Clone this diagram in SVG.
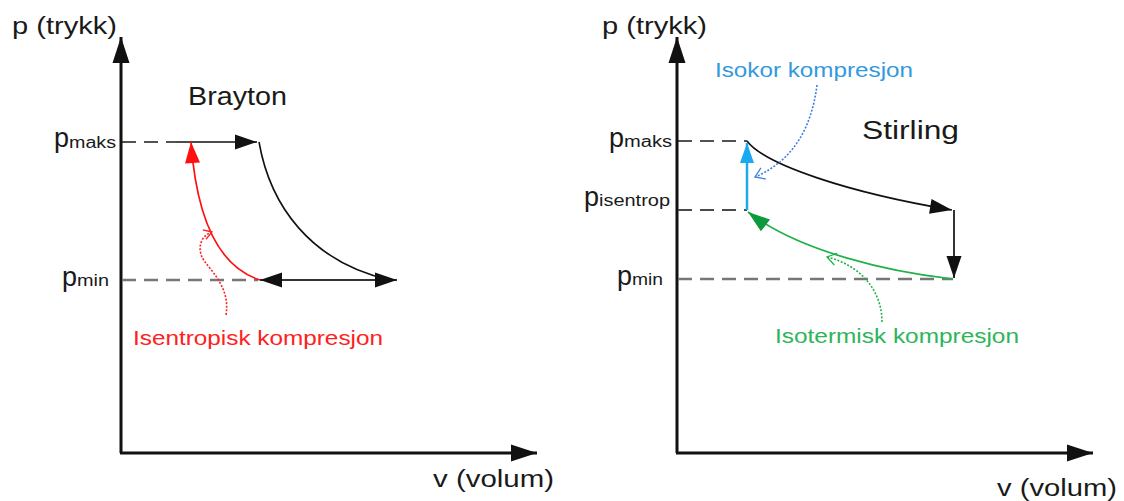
<svg xmlns="http://www.w3.org/2000/svg" width="1124" height="501" viewBox="0 0 1124 501">
<style>
  text { font-family: "Liberation Sans", Arial, sans-serif; fill: #1a1a1a; }
  .axis { stroke: #111; stroke-width: 3; fill: none; }
  .lbl { font-size: 23px; }
  .title { font-size: 25px; }
  .pbig { font-size: 27px; }
  .psub { font-size: 16px; }
  .dmax { stroke: #1a1a1a; stroke-width: 1.6; stroke-dasharray: 14 8; fill: none; }
  .dmid { stroke: #4a4a4a; stroke-width: 2; stroke-dasharray: 14 8; fill: none; }
  .dmin { stroke: #777; stroke-width: 2.6; stroke-dasharray: 14 8; fill: none; }
  .blk { stroke: #111; stroke-width: 1.6; fill: none; }
  .blk2 { stroke: #333; stroke-width: 2; fill: none; }
  .dot { stroke-width: 1.6; stroke-dasharray: 2 1.6; fill: none; }
</style>
<defs>
  <marker id="axArr" markerUnits="userSpaceOnUse" viewBox="-30 -15 32 30" markerWidth="32" markerHeight="30" refX="0" refY="0" orient="auto">
    <path d="M0,0 L-26,-8.5 L-26,8.5 z" fill="#111"/>
  </marker>
  <marker id="kArr" markerUnits="userSpaceOnUse" viewBox="-30 -15 32 30" markerWidth="32" markerHeight="30" refX="0" refY="0" orient="auto-start-reverse">
    <path d="M0,0 L-22,-7.5 L-22,7.5 z" fill="#111"/>
  </marker>
  <marker id="rArr" markerUnits="userSpaceOnUse" viewBox="-30 -15 32 30" markerWidth="32" markerHeight="30" refX="0" refY="0" orient="auto">
    <path d="M0,0 L-21,-7.5 L-21,7.5 z" fill="#ff1010"/>
  </marker>
  <marker id="bArr" markerUnits="userSpaceOnUse" viewBox="-30 -15 32 30" markerWidth="32" markerHeight="30" refX="0" refY="0" orient="auto">
    <path d="M0,0 L-20,-7 L-20,7 z" fill="#1aaaf0"/>
  </marker>
  <marker id="gArr" markerUnits="userSpaceOnUse" viewBox="-30 -15 32 30" markerWidth="32" markerHeight="30" refX="0" refY="0" orient="auto">
    <path d="M0,0 L-22,-7.5 L-22,7.5 z" fill="#0c9a3c"/>
  </marker>
  <marker id="rOpen" markerUnits="userSpaceOnUse" viewBox="-12 -8 14 16" markerWidth="14" markerHeight="16" refX="0" refY="0" orient="auto">
    <path d="M-8,-5 L0,0 L-8,5" fill="none" stroke="#ff2020" stroke-width="1.3"/>
  </marker>
  <marker id="bOpen" markerUnits="userSpaceOnUse" viewBox="-12 -8 14 16" markerWidth="14" markerHeight="16" refX="0" refY="0" orient="auto">
    <path d="M-9,-6 L0,0 L-9,6" fill="none" stroke="#3f7fe0" stroke-width="1.3"/>
  </marker>
  <marker id="gOpen" markerUnits="userSpaceOnUse" viewBox="-12 -8 14 16" markerWidth="14" markerHeight="16" refX="0" refY="0" orient="auto">
    <path d="M-9,-6 L0,0 L-9,6" fill="none" stroke="#22b14c" stroke-width="1.3"/>
  </marker>
</defs>
<rect width="1124" height="501" fill="#fff"/>

<!-- Left: Brayton -->
<g id="brayton-axes">
  <path class="axis" d="M121 453 V37" marker-end="url(#axArr)"/>
  <path class="axis" d="M120 453 H537" marker-end="url(#axArr)"/>
  <text class="lbl" x="12" y="34" textLength="105" lengthAdjust="spacingAndGlyphs">p (trykk)</text>
  <text class="lbl" x="433" y="487" font-size="24" textLength="121" lengthAdjust="spacingAndGlyphs">v (volum)</text>
  <text class="title" x="188" y="105" textLength="99" lengthAdjust="spacingAndGlyphs">Brayton</text>
</g>
<g id="brayton-pmaks">
  <text class="pbig" x="54" y="147">p</text>
  <text class="psub" x="69" y="148" textLength="47" lengthAdjust="spacingAndGlyphs">maks</text>
  <path class="dmax" d="M122 142 H176"/>
</g>
<g id="brayton-pmin">
  <text class="pbig" x="62" y="286">p</text>
  <text class="psub" x="77" y="286" textLength="32" lengthAdjust="spacingAndGlyphs">min</text>
  <path class="dmin" d="M122 280 H258"/>
</g>
<g id="brayton-connectors">
  <path class="blk" d="M176 142 H257" marker-end="url(#kArr)"/>
  <path class="blk" d="M259 142 C270 205, 310 262, 390 280"/>
  <path class="blk2" d="M397 280 H260" marker-start="url(#kArr)" marker-end="url(#kArr)"/>
  <path d="M260 280 C222 268, 197 225, 191 142" fill="none" stroke="#ff1010" stroke-width="1.7" marker-end="url(#rArr)"/>
  <path class="dot" stroke="#ff2020" d="M226 315 C230 290, 215 275, 205 262 C196 250, 200 236, 212 232" marker-end="url(#rOpen)"/>
</g>
<g id="brayton-label">
  <text x="133" y="345" font-size="21" style="fill:#ff2020" textLength="250" lengthAdjust="spacingAndGlyphs">Isentropisk kompresjon</text>
</g>

<!-- Right: Stirling -->
<g id="stirling-axes">
  <path class="axis" d="M677 453 V37" marker-end="url(#axArr)"/>
  <path class="axis" d="M676 453 H1093" marker-end="url(#axArr)"/>
  <text class="lbl" x="602" y="34" textLength="105" lengthAdjust="spacingAndGlyphs">p (trykk)</text>
  <text class="lbl" x="997" y="496" font-size="24" textLength="120" lengthAdjust="spacingAndGlyphs">v (volum)</text>
  <text class="title" x="862" y="139" textLength="97" lengthAdjust="spacingAndGlyphs">Stirling</text>
</g>
<g id="stirling-pmaks">
  <text class="pbig" x="609" y="147">p</text>
  <text class="psub" x="624" y="147" textLength="48" lengthAdjust="spacingAndGlyphs">maks</text>
  <path class="dmax" d="M678 141 H747"/>
</g>
<g id="stirling-pisentrop">
  <text class="pbig" x="584" y="206">p</text>
  <text class="psub" x="599" y="206" textLength="71" lengthAdjust="spacingAndGlyphs">isentrop</text>
  <path class="dmid" d="M678 210 H747"/>
</g>
<g id="stirling-pmin">
  <text class="pbig" x="617" y="285">p</text>
  <text class="psub" x="632" y="285" textLength="31" lengthAdjust="spacingAndGlyphs">min</text>
  <path class="dmin" d="M678 279 H953"/>
</g>
<g id="stirling-connectors">
  <path class="blk" d="M747 141 C765 165, 850 193, 952 210" marker-end="url(#kArr)"/>
  <path class="blk2" d="M954 210 V278" marker-end="url(#kArr)"/>
  <path d="M953 279 C890 272, 800 252, 748 212" fill="none" stroke="#22b14c" stroke-width="1.7" marker-end="url(#gArr)"/>
  <path d="M747 210 V143" fill="none" stroke="#1aaaf0" stroke-width="2.5" marker-end="url(#bArr)"/>
  <path class="dot" stroke="#3f7fe0" d="M817 85 C812 125, 795 160, 755 177" marker-end="url(#bOpen)"/>
  <path class="dot" stroke="#22b14c" d="M882 322 C882 290, 860 265, 827 257" marker-end="url(#gOpen)"/>
</g>
<g id="stirling-labels">
  <text x="715" y="77" font-size="21" style="fill:#3399dd" textLength="198" lengthAdjust="spacingAndGlyphs">Isokor kompresjon</text>
  <text x="775" y="343" font-size="21" style="fill:#2db55a" textLength="244" lengthAdjust="spacingAndGlyphs">Isotermisk kompresjon</text>
</g>
</svg>
